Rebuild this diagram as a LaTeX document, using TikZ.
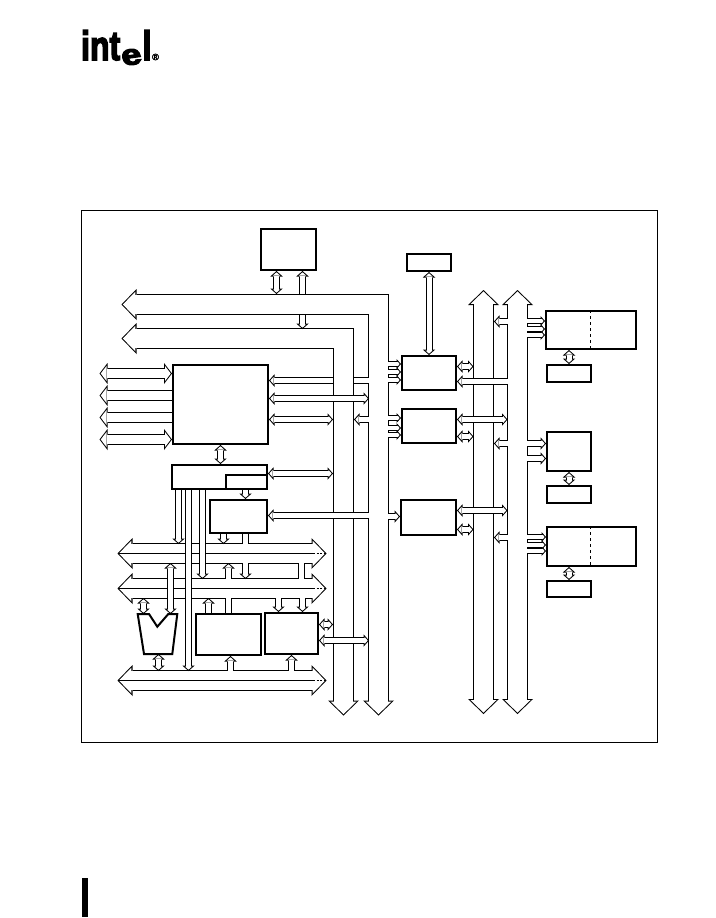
\documentclass[tikz,border=0pt]{standalone}
\usepackage{fontspec}
\setmainfont{Liberation Sans}
\newfontfamily\logofont[FakeBold=4]{Liberation Sans}
\usetikzlibrary{arrows.meta}
\tikzset{
    box/.style = {rectangle, draw=black, fill=white, line width=2pt, inner sep=0pt},
    logo/.style = {font=\logofont\bfseries\fontsize{41}{41}\selectfont, inner sep=0pt, anchor=base west, xscale=0.78, transform shape},
    % taps come in close groups: all outlines of a group first, then all insides
    tapback/.style = {draw=black, line width=6pt, ->, >={Triangle[length=4.5pt,width=10pt,line width=0pt]}},
    tapfront/.style = {draw=white, line width=4pt, ->, >={Triangle[length=2.15pt,width=4.8pt,line width=0pt,sep=1.35pt]}},
    % outline first, then the white inside on the same path
    smallbus/.style = {
        preaction={draw=black, line width=7pt, arrows=#1, >={Triangle[length=5.5pt,width=12.5pt,line width=0pt]}},
        draw=white, line width=5pt, arrows=#1,
        >={Triangle[length=3.17pt,width=7.2pt,line width=0pt,sep=1.33pt]}},
    smallbus/.default = -,
    midbus/.style = {
        preaction={draw=black, line width=11pt, arrows=#1, >={Triangle[length=8pt,width=21pt,line width=0pt]}},
        draw=white, line width=9pt, arrows=#1,
        >={Triangle[length=5.74pt,width=15.1pt,line width=0pt,sep=1.26pt]}},
    midbus/.default = -,
    bigbus/.style = {
        preaction={draw=black, line width=21pt, arrows=#1, >={Triangle[length=15pt,width=31pt,line width=0pt]}},
        draw=white, line width=19pt, arrows=#1,
        >={Triangle[length=12.6pt,width=26pt,line width=0pt,sep=1.39pt]}},
    bigbus/.default = -,
    midline/.style = {draw=black, line width=1pt},
}
\begin{document}
\begin{tikzpicture}[x=1pt,y=-1pt,line join=miter]
\useasboundingbox (0,0) rectangle (715,918);

% logo and page marks
\node[logo] (logoint) at (81,60) {int};
\node[logo, font=\logofont\bfseries\fontsize{29}{29}\selectfont, xscale=1.6, rotate=10] (logoe) at (123,66) {e};
\node[logo] (logol) at (142.5,60) {l};
\node[font=\logofont\fontsize{9}{9}\selectfont, inner sep=0pt] (logor) at (155.5,57) {®};
\node[fill=black, minimum width=6pt, minimum height=39pt, inner sep=0pt] (edgebar) at (85,897.5) {};
\node[draw=black, line width=1pt, minimum width=576pt, minimum height=532pt, inner sep=0pt] (frame) at (369.5,476.5) {};

% boxes
\node[box, minimum width=55pt, minimum height=41pt] (mem) at (288.5,249.5) {};
\node[box, minimum width=95pt, minimum height=79pt] (cpu) at (220.5,404.5) {};
\node[box, minimum width=95pt, minimum height=24pt] (ctl) at (219.5,477) {};
\node[box, minimum width=41pt, minimum height=14pt] (sub) at (246.5,482) {};
\node[box, minimum width=57pt, minimum height=33pt] (trans) at (238.5,516.5) {};
\node[box, minimum width=65pt, minimum height=41pt] (unita) at (228.5,634.5) {};
\node[box, minimum width=53pt, minimum height=41pt] (unitb) at (291.5,633.5) {};
\node[box, minimum width=44pt, minimum height=17pt] (rom) at (429,262.5) {};
\node[box, minimum width=54pt, minimum height=34pt] (ioa) at (429,373) {};
\node[box, minimum width=54pt, minimum height=34pt] (iob) at (429,426) {};
\node[box, minimum width=55pt, minimum height=35pt] (ioc) at (428.5,517.5) {};
\node[box, minimum width=90pt, minimum height=38pt] (perf) at (591,330) {};
\node[box, minimum width=44pt, minimum height=17pt] (perfx) at (569,373.5) {};
\node[box, minimum width=44pt, minimum height=39pt] (perg) at (569,451.5) {};
\node[box, minimum width=44pt, minimum height=17pt] (pergx) at (569,494.5) {};
\node[box, minimum width=89pt, minimum height=39pt] (perh) at (591.5,546.5) {};
\node[box, minimum width=44pt, minimum height=16pt] (perhx) at (569,589) {};
\draw[line width=1pt, dashed] (590.5,0 |- perf.north) -- (590.5,0 |- perf.south);
\draw[line width=1pt, dashed] (590.5,0 |- perh.north) -- (590.5,0 |- perh.south);
\draw[box] (137.7,614) coordinate (alul) -- (149,614) -- (157.3,626.7) -- (168.3,614)
    -- (177.3,614) coordinate (alur) -- (172.3,654) -- (144,654) coordinate (alub) -- cycle;

% edges of the buses, where the links land
\coordinate (awest) at (369,0);
\coordinate (aeast) at (388,0);
\coordinate (bwest) at (333,0);
\coordinate (beast) at (354,0);
\coordinate (ntop) at (0,294);
\coordinate (nbot) at (0,315);
\coordinate (mtop) at (0,329);
\coordinate (ctop) at (0,544);
\coordinate (cbot) at (0,563);
\coordinate (dtop) at (0,579);
\coordinate (dbot) at (0,598);
\coordinate (etop) at (0,671);
\coordinate (pwest) at (473.5,0);
\coordinate (peast) at (494,0);
\coordinate (qwest) at (507.5,0);
\coordinate (qeast) at (527,0);

% left side of the cpu
\draw[midbus=<->] (99.5,373.5) -- (cpu.west |- 0,373.5);
\draw[midbus=<-] (99.5,395.5) -- (cpu.west |- 0,395.5);
\draw[midbus=<-] (99.5,417.5) -- (cpu.west |- 0,417.5);
\draw[midbus=<->] (99.5,439.5) -- (cpu.west |- 0,439.5);

% bus a, with what opens into it, then bus b over them
\draw[bigbus=<->] (121.5,304.5) -- (378.5,304.5) -- (378.5,715.5);
\draw[smallbus=<->] (276.5,0 |- mem.south) -- (276.5,0 |- ntop);
\draw[smallbus=<-] (302.5,0 |- mem.south) -- (302.5,0 |- ntop);
\draw[smallbus=<-] (cpu.east |- 0,380.5) -- (awest |- 0,380.5);
\draw[smallbus=<-] (beast |- 0,419.5) -- (awest |- 0,419.5);
\foreach \y in {364,372,380} {
    \draw[tapback] (aeast |- 0,\y) -- (ioa.west |- 0,\y);
}
\foreach \y in {364,372,380} {
    \draw[tapfront] (aeast |- 0,\y) -- (ioa.west |- 0,\y);
}
\foreach \y in {418,428,435} {
    \draw[tapback] (aeast |- 0,\y) -- (iob.west |- 0,\y);
}
\foreach \y in {418,428,435} {
    \draw[tapfront] (aeast |- 0,\y) -- (iob.west |- 0,\y);
}
\draw[smallbus=->] (aeast |- 0,516.5) -- (ioc.west |- 0,516.5);
\draw[bigbus=<->] (121.5,338.5) -- (343.5,338.5) -- (343.5,715.5);
\draw[smallbus=<-] (302.5,0 |- mtop) -- (302.5,0 |- nbot);

% cpu and control over bus b
\draw[smallbus=<->] (cpu.east |- 0,398.5) -- (awest |- 0,398.5);
\draw[smallbus=<->] (cpu.east |- 0,419.5) -- (bwest |- 0,419.5);
\draw[smallbus=<->] (ctl.east |- 0,473.5) -- (bwest |- 0,473.5);
\draw[smallbus=<-] (trans.east |- 0,515.5) -- (awest |- 0,515.5);
\draw[smallbus=<->] (cpu.south) -- (ctl.north -| cpu.south);
\draw[smallbus=->] (245.5,0 |- sub.south) -- (245.5,0 |- trans.north);

% local buses
\foreach \y/\n in {553.5/c, 588.5/d, 680.5/e} {
    \coordinate (lb\n) at (117.5,\y);
    \coordinate (rb\n) at (326.5,\y);
    \draw[bigbus=<->] (lb\n) -- (rb\n);
    \draw[midline] (lb\n) -- (313,\y);
    \draw[midline, dash pattern=on 2pt off 1.5pt] (313,\y) -- (rb\n);
}

% links between the local buses
\draw[smallbus=->] (178.5,0 |- ctl.south) -- (178.5,0 |- ctop);
\draw[smallbus=->] (223.5,0 |- trans.south) -- (223.5,0 |- ctop);
\draw[smallbus] (245.5,0 |- trans.south) -- (245.5,0 |- ctop);
\draw[smallbus=->] (245.5,0 |- cbot) -- (245.5,0 |- dtop);
\draw[smallbus=<-] (228.5,0 |- cbot) -- (228.5,0 |- dtop);
\draw[smallbus] (301.5,0 |- cbot) -- (301.5,0 |- dtop);
\draw[smallbus=->] (202.5,0 |- ctl.south) -- (202.5,0 |- dtop);
\draw[smallbus=->] (188.5,0 |- ctl.south) -- (188.5,0 |- etop);
\draw[smallbus=<->] (170.5,0 |- cbot) -- (170.5,0 |- alur);
\draw[smallbus=<->] (143.5,0 |- dbot) -- (143.5,0 |- alul);
\draw[smallbus=<-] (208.5,0 |- dbot) -- (208.5,0 |- unita.north);
\draw[smallbus] (228.5,0 |- dbot) -- (228.5,0 |- unita.north);
\draw[smallbus=->] (278.5,0 |- dbot) -- (278.5,0 |- unitb.north);
\draw[smallbus=->] (302.5,0 |- dbot) -- (302.5,0 |- unitb.north);
\draw[smallbus=<->] (158.5,0 |- alub) -- (158.5,0 |- etop);
\draw[smallbus=<-] (230.5,0 |- unita.south) -- (230.5,0 |- etop);
\draw[smallbus=<-] (291.5,0 |- unitb.south) -- (291.5,0 |- etop);
\draw[smallbus=<->] (unitb.east |- 0,624.5) -- (bwest |- 0,624.5);
\draw[smallbus=<->] (unitb.east |- 0,640.5) -- (awest |- 0,640.5);

% system bus pair on the right
\draw[bigbus=<->] (483.5,290) -- (483.5,714);
\draw[bigbus=<->] (517.5,290) -- (517.5,714);
\foreach \y in {321.5,443.5,537.5} {
    \draw[smallbus=<-] (peast |- 0,\y) -- (qwest |- 0,\y);
}
\draw[smallbus=<-] (ioa.east |- 0,381.5) -- (qwest |- 0,381.5);
\draw[smallbus=<->] (iob.east |- 0,419.5) -- (qwest |- 0,419.5);
\draw[smallbus=<->] (ioc.east |- 0,510.5) -- (qwest |- 0,510.5);
\draw[smallbus=<->] (ioa.east |- 0,366.5) -- (pwest |- 0,366.5);
\draw[smallbus=<->] (iob.east |- 0,436.5) -- (pwest |- 0,436.5);
\draw[smallbus=<->] (ioc.east |- 0,529.5) -- (pwest |- 0,529.5);
\foreach \y in {321,329,335} {
    \draw[tapback] (qeast |- 0,\y) -- (perf.west |- 0,\y);
}
\foreach \y in {321,329,335} {
    \draw[tapfront] (qeast |- 0,\y) -- (perf.west |- 0,\y);
}
\foreach \y in {443,458} {
    \draw[smallbus=->] (qeast |- 0,\y.5) -- (perg.west |- 0,\y.5);
}
\foreach \y in {537,545,551} {
    \draw[tapback] (qeast |- 0,\y) -- (perh.west |- 0,\y);
}
\foreach \y in {537,545,551} {
    \draw[tapfront] (qeast |- 0,\y) -- (perh.west |- 0,\y);
}

% memory and peripherals
\draw[smallbus=<->] (rom.south) -- (ioa.north);
\draw[smallbus=<->] (perf.south -| perfx.north) -- (perfx.north);
\draw[smallbus=<->] (perg.south) -- (pergx.north);
\draw[smallbus=<->] (perh.south -| perhx.north) -- (perhx.north);
\end{tikzpicture}
\end{document}
